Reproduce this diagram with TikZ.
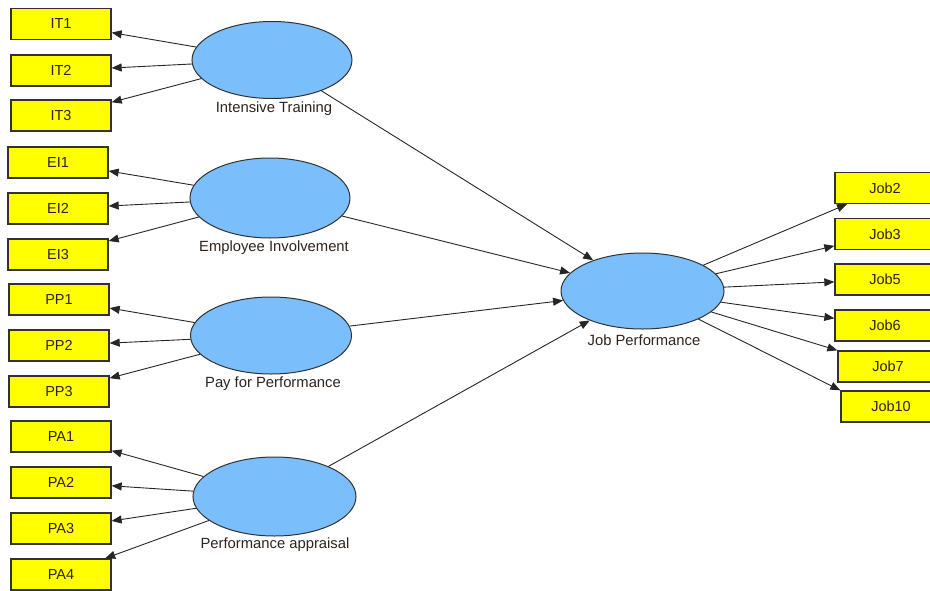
\documentclass[tikz,border=0pt]{standalone}
\usepackage{fontspec}
\setmainfont{Liberation Sans}
\usetikzlibrary{shapes.geometric,arrows.meta}
\definecolor{latblue}{RGB}{122,190,252}
\definecolor{boxyel}{RGB}{255,255,0}
\definecolor{edgegray}{RGB}{50,50,50}
\definecolor{txtdark}{RGB}{45,35,30}
\tikzset{
  indbox/.style={draw=edgegray, fill=boxyel, line width=1.3pt, minimum width=100pt, minimum height=31pt, inner sep=0pt, font=\fontsize{14.5}{16}\selectfont, text=txtdark},
  latent/.style={ellipse, draw=edgegray, fill=latblue, line width=1pt, inner sep=0pt},
  latlabel/.style={font=\fontsize{14.8}{16}\selectfont, text=txtdark, inner sep=0pt},
  conn/.style={draw=black!85, line width=0.9pt, -{Triangle[length=10pt,width=8pt]}}
}
\begin{document}
\begin{tikzpicture}[x=1pt,y=-1pt]
\useasboundingbox (0,0) rectangle (930,590);
\clip (0,0) rectangle (930,590);
% latent variables
\node[latent, minimum width=160pt, minimum height=77pt] (IT) at (272,60) {};
\node[latent, minimum width=160pt, minimum height=80pt] (EI) at (270,198) {};
\node[latent, minimum width=161pt, minimum height=77pt] (PP) at (271,335.5) {};
\node[latent, minimum width=163pt, minimum height=79pt] (PA) at (274.5,496.5) {};
\node[latent, minimum width=163pt, minimum height=76pt] (JP) at (642.5,291) {};
% labels
\node[latlabel] (ITl) at (274,109) {Intensive Training};
\node[latlabel] (EIl) at (274,248) {Employee Involvement};
\node[latlabel] (PPl) at (273,384) {Pay for Performance};
\node[latlabel] (PAl) at (275,545) {Performance appraisal};
\node[latlabel] (JPl) at (644,340) {Job Performance};
% indicators left
\node[indbox] (IT1) at (61,24) {IT1};
\node[indbox] (IT2) at (61,70.5) {IT2};
\node[indbox] (IT3) at (61,115.5) {IT3};
\node[indbox] (EI1) at (58,162.5) {EI1};
\node[indbox] (EI2) at (58,208.5) {EI2};
\node[indbox] (EI3) at (58,254.5) {EI3};
\node[indbox] (PP1) at (59,299.5) {PP1};
\node[indbox] (PP2) at (59,345.5) {PP2};
\node[indbox] (PP3) at (59,391.5) {PP3};
\node[indbox] (PA1) at (61,436.5) {PA1};
\node[indbox] (PA2) at (61,482.5) {PA2};
\node[indbox] (PA3) at (61,528.5) {PA3};
\node[indbox] (PA4) at (61,574.5) {PA4};
% indicators right
\node[indbox] (Job2) at (885,188) {Job2};
\node[indbox] (Job3) at (885,234) {Job3};
\node[indbox] (Job5) at (885,279.5) {Job5};
\node[indbox] (Job6) at (885,325.5) {Job6};
\node[indbox] (Job7) at (888,366.5) {Job7};
\node[indbox] (Job10) at (891,406.5) {Job10};
% connectors
\foreach \a/\b in {IT/IT1,IT/IT2,IT/IT3,EI/EI1,EI/EI2,EI/EI3,PP/PP1,PP/PP2,PP/PP3,PA/PA1,PA/PA2,PA/PA3,PA/PA4,IT/JP,EI/JP,PP/JP,PA/JP,JP/Job2,JP/Job3,JP/Job5,JP/Job6}
  \draw[conn] (\a) -- (\b);
\draw[conn] (JP) -- (Job7.north west);
\draw[conn] (JP) -- (Job10.north west);
\end{tikzpicture}
\end{document}
